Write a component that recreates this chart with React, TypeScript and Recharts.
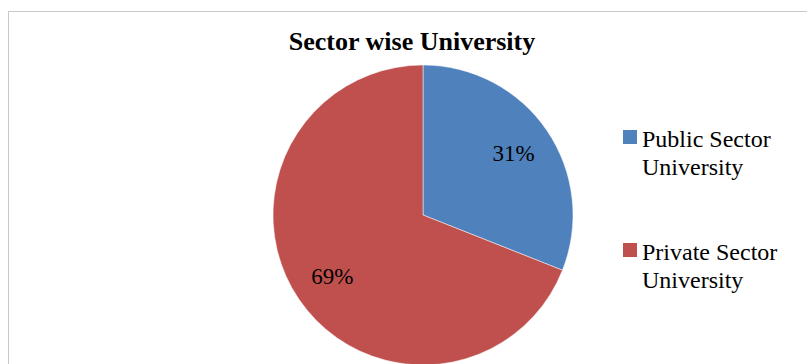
import { PieChart, Pie, Cell, Legend } from 'recharts'

const sectors = ['Public Sector University', 'Private Sector University']
const shares = [31, 69]
const colors = ['#4f81bd', '#c0504d']

const data = sectors.map((name, i) => ({ name, value: shares[i] }))

const FONT = 'Liberation Serif, Times New Roman, serif'
const RAD = Math.PI / 180

function renderLabel(props: any) {
  const { cx, cy, midAngle, outerRadius, percent } = props
  const r = outerRadius * 0.73
  const x = cx + r * Math.cos(-midAngle * RAD)
  const y = cy + r * Math.sin(-midAngle * RAD)
  return (
    <text
      x={x}
      y={y}
      textAnchor="middle"
      dominantBaseline="central"
      fill="#000"
      style={{ fontFamily: FONT, fontSize: 23 }}
    >
      {`${Math.round(percent * 100)}%`}
    </text>
  )
}

function LegendBox() {
  return (
    <div style={{ fontFamily: FONT, fontSize: 24, lineHeight: '28px', color: '#000' }}>
      {data.map((d, i) => (
        <div key={d.name} style={{ display: 'flex', alignItems: 'flex-start', marginBottom: 57 }}>
          <span style={{ width: 14, height: 14, background: colors[i], marginTop: 5, marginRight: 5, flexShrink: 0 }} />
          <span style={{ width: 150, fontFamily: FONT }}>{d.name}</span>
        </div>
      ))}
    </div>
  )
}

export default function App() {
  return (
    <div
      style={{
        position: 'absolute',
        left: 0,
        top: 0,
        width: 807,
        height: 364,
        overflow: 'hidden',
        background: '#fff',
        fontFamily: FONT,
      }}
    >
      <div
        style={{
          position: 'absolute',
          left: 8,
          top: 11,
          width: 820,
          height: 420,
          border: '1px solid #c8c8c8',
          boxSizing: 'border-box',
        }}
      />
      <PieChart
        width={807}
        height={364}
        margin={{ top: 0, right: 0, bottom: 0, left: 0 }}
        style={{ position: 'absolute', left: 0, top: 0, fontFamily: FONT }}
      >
        <text x={412} y={50} textAnchor="middle" fill="#000" style={{ fontFamily: FONT, fontSize: 26, fontWeight: 'bold' }}>
          Sector wise University
        </text>
        <Pie
          data={data}
          dataKey="value"
          nameKey="name"
          cx={423}
          cy={215}
          outerRadius={150}
          startAngle={90}
          endAngle={-270}
          stroke="#ffffff"
          strokeWidth={0.5}
          label={renderLabel}
          labelLine={false}
          isAnimationActive={false}
        >
          {data.map((d, i) => (
            <Cell key={d.name} fill={colors[i]} />
          ))}
        </Pie>
        <Legend content={<LegendBox />} wrapperStyle={{ position: 'absolute', left: 623, top: 125, width: 180 }} />
      </PieChart>
    </div>
  )
}
